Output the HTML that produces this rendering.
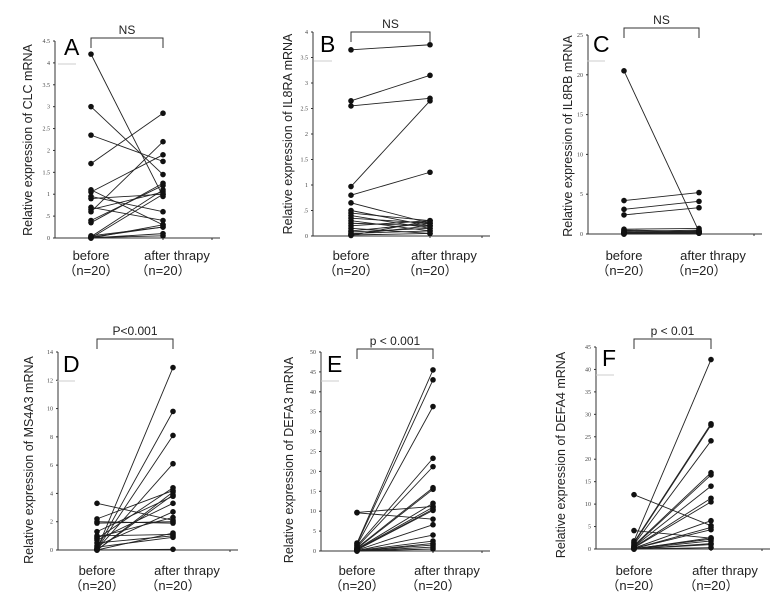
<!DOCTYPE html>
<html><head><meta charset="utf-8"><style>
html,body{margin:0;padding:0;background:#fff;}
svg{display:block;font-family:"Liberation Sans",sans-serif;}
</style></head><body>
<svg id="fig" width="780" height="606" viewBox="0 0 780 606" xmlns="http://www.w3.org/2000/svg"></svg>
<script>
// ---- data ----
const categories = ["before", "after thrapy"];
const aBefore = [4.2,3.0,2.35,1.7,1.1,1.05,0.95,0.9,0.7,0.65,0.6,0.4,0.35,0.05,0.03,0.02,0.01,0,0,0];
const aAfter  = [0.95,1.45,1.75,2.85,0.3,1.9,0.6,1.0,0.4,1.05,2.2,1.2,1.25,0.25,1.1,0.25,0.05,1.0,0.1,0.3];
const bBefore = [3.65,2.65,2.55,0.97,0.8,0.65,0.5,0.45,0.4,0.35,0.3,0.25,0.2,0.15,0.1,0.08,0.05,0.03,0.02,0.01];
const bAfter  = [3.75,3.15,2.7,2.65,1.25,0.25,0.2,0.3,0.15,0.25,0.1,0.2,0.3,0.05,0.25,0.15,0.1,0.2,0.05,0.3];
const cBefore = [20.5,4.2,3.1,2.4,0.6,0.5,0.4,0.3,0.2,0.2,0.15,0.1,0.1,0.1,0.05,0.05,0.05,0,0,0];
const cAfter  = [0.3,5.2,4.1,3.3,0.7,0.3,0.2,0.5,0.1,0.3,0.2,0.1,0.3,0.2,0.1,0.4,0.2,0.1,0.3,0.2];
const dBefore = [3.3,2.2,2.0,1.9,1.3,1.0,0.9,0.8,0.7,0.5,0.3,0.2,0.1,0.05,0.05,0.05,0,0,0,0];
const dAfter  = [2.1,4.2,1.9,2.0,3.8,1.1,2.3,4.4,3.3,1.0,2.7,0.9,9.8,12.9,8.1,6.1,4.1,3.9,0.05,1.2];
const eBefore = [9.7,9.6,2.0,1.8,1.5,1.3,1.0,0.8,0.6,0.5,0.4,0.3,0.3,0.2,0.1,0.1,0.05,0,0,0];
const eAfter  = [11.2,8.0,45.5,43,36.3,23.3,21.2,15.9,15.5,12,11,10.5,10.2,6.6,4,2.5,1.5,1.9,0.5,1.0];
const fBefore = [12.1,4.1,1.8,1.5,1.3,1.0,0.8,0.6,0.5,0.4,0.3,0.2,0.1,0.1,0.1,0.05,0,0,0,0];
const fAfter  = [5.2,2.4,42.2,27.9,27.6,24.1,17,16.5,14,11.3,10.5,6.3,4.8,4.3,2.2,1.8,1.2,1.0,0.3,2.5];
const aTicks = ["0",".5","1","1.5","2","2.5","3","3.5","4","4.5"];
const bTicks = ["0",".5","1","1.5","2","2.5","3","3.5","4"];
const cTicks = ["0","5","10","15","20","25"];
const dTicks = ["0","2","4","6","8","10","12","14"];
const eTicks = ["0","5","10","15","20","25","30","35","40","45","50"];
const fTicks = ["0","5","10","15","20","25","30","35","40","45"];
const genes = ["CLC","IL8RA","IL8RB","MS4A3","DEFA3","DEFA4"];
const letters = ["A","B","C","D","E","F"];
const sigLabels = ["NS","NS","NS","P<0.001","p < 0.001","p < 0.01"];

const NS = "http://www.w3.org/2000/svg";
const svg = document.getElementById('fig');
function mk(tag, attrs, parent){const e=document.createElementNS(NS,tag);for(const k in attrs)e.setAttribute(k,attrs[k]);(parent||svg).appendChild(e);return e;}

const panels = [
 {ax:55,y0:238,yt:41,max:4.5,step:0.5,xB:91,xA:163,end:220,br:38,tx:32,ty:140,ly:260,b:aBefore,a:aAfter,t:aTicks,lx:64,lyL:55},
 {ax:313,y0:236,yt:32,max:4,step:0.5,xB:351,xA:430,end:490,br:32,tx:292,ty:134,ly:260,b:bBefore,a:bAfter,t:bTicks,lx:320,lyL:52},
 {ax:588,y0:234,yt:35,max:25,step:5,xB:624,xA:699,end:762,br:28,tx:572,ty:136,ly:260,b:cBefore,a:cAfter,t:cTicks,lx:593,lyL:52},
 {ax:58,y0:550,yt:352,max:14,step:2,xB:97,xA:173,end:238,br:339,tx:33,ty:460,ly:575,b:dBefore,a:dAfter,t:dTicks,lx:63,lyL:372},
 {ax:321,y0:551,yt:352,max:50,step:5,xB:357,xA:433,end:490,br:349,tx:293,ty:460,ly:575,b:eBefore,a:eAfter,t:eTicks,lx:327,lyL:372},
 {ax:596,y0:549,yt:347,max:45,step:5,xB:634,xA:711,end:770,br:339,tx:565,ty:455,ly:575,b:fBefore,a:fAfter,t:fTicks,lx:602,lyL:366}
];

panels.forEach((p,i)=>{
  const g = mk('g',{});
  
  
  const y = v => p.y0 - v/p.max*(p.y0-p.yt);
  const ya = mk('line',{x1:p.ax,y1:p.yt,x2:p.ax,y2:p.y0,stroke:'#333','stroke-width':1},g);
  
  
  const xa = mk('line',{x1:p.ax,y1:p.y0,x2:p.end,y2:p.y0,stroke:'#333','stroke-width':1},g);
  
  
  p.t.forEach((lab,k)=>{
    const ty = y(k*p.step);
    mk('line',{x1:p.ax-2,y1:ty,x2:p.ax,y2:ty,stroke:'#333','stroke-width':1},g);
    const t = mk('text',{x:p.ax-5,y:ty+2,'font-size':6,'text-anchor':'end','font-family':'Liberation Serif, serif',fill:'#444'},g);
    t.textContent = lab;
    
    
  });
  [p.xB,p.xA,p.end-8].forEach(x=>mk('line',{x1:x,y1:p.y0,x2:x,y2:p.y0+2,stroke:'#333','stroke-width':1},g));
  p.b.forEach((vb,k)=>{
    const va = p.a[k];
    const ln = mk('line',{x1:p.xB,y1:y(vb),x2:p.xA,y2:y(va),stroke:'#222','stroke-width':0.9},g);
    
    
  });
  p.b.forEach((vb,k)=>{
    const c1 = mk('circle',{cx:p.xB,cy:y(vb),r:2.8,fill:'#111'},g);
    
    
    const c2 = mk('circle',{cx:p.xA,cy:y(p.a[k]),r:2.8,fill:'#111'},g);
    
    
  });
  const br = mk('path',{d:`M${p.xB},${p.br+10}V${p.br}H${p.xA}V${p.br+10}`,fill:'none',stroke:'#333','stroke-width':1},g);
  
  
  const sl = mk('text',{x:(p.xB+p.xA)/2,y:p.br-4,'font-size':12,'text-anchor':'middle',fill:'#222'},g);
  sl.textContent = sigLabels[i];
  
  
  const L = mk('text',{x:p.lx,y:p.lyL,'font-size':23,fill:'#000'},g);
  L.textContent = letters[i];
  
  
  mk('line',{x1:p.lx-6,y1:p.lyL+9,x2:p.lx+12,y2:p.lyL+9,stroke:'#ccc','stroke-width':1},g);
  const yt = mk('text',{x:p.tx,y:p.ty,'font-size':12.5,'text-anchor':'middle',fill:'#222',transform:`rotate(-90 ${p.tx} ${p.ty})`},g);
  yt.textContent = 'Relative expression of '+genes[i]+' mRNA';
  
  
  const xb = mk('text',{x:p.xB,y:p.ly,'font-size':13,'text-anchor':'middle',fill:'#222'},g);
  xb.textContent = categories[0];
  
  
  const nb = mk('text',{x:p.xB,y:p.ly+15,'font-size':13,'text-anchor':'middle',fill:'#222','font-family':'Liberation Sans, Noto Sans CJK JP, sans-serif'},g);
  nb.textContent = '（n=20）';
  
  
  const xa2 = mk('text',{x:p.xA+14,y:p.ly,'font-size':13,'text-anchor':'middle',fill:'#222'},g);
  xa2.textContent = categories[1];
  
  
  const na = mk('text',{x:p.xA,y:p.ly+15,'font-size':13,'text-anchor':'middle',fill:'#222','font-family':'Liberation Sans, Noto Sans CJK JP, sans-serif'},g);
  na.textContent = '（n=20）';
  
  
});
</script>
</body></html>
